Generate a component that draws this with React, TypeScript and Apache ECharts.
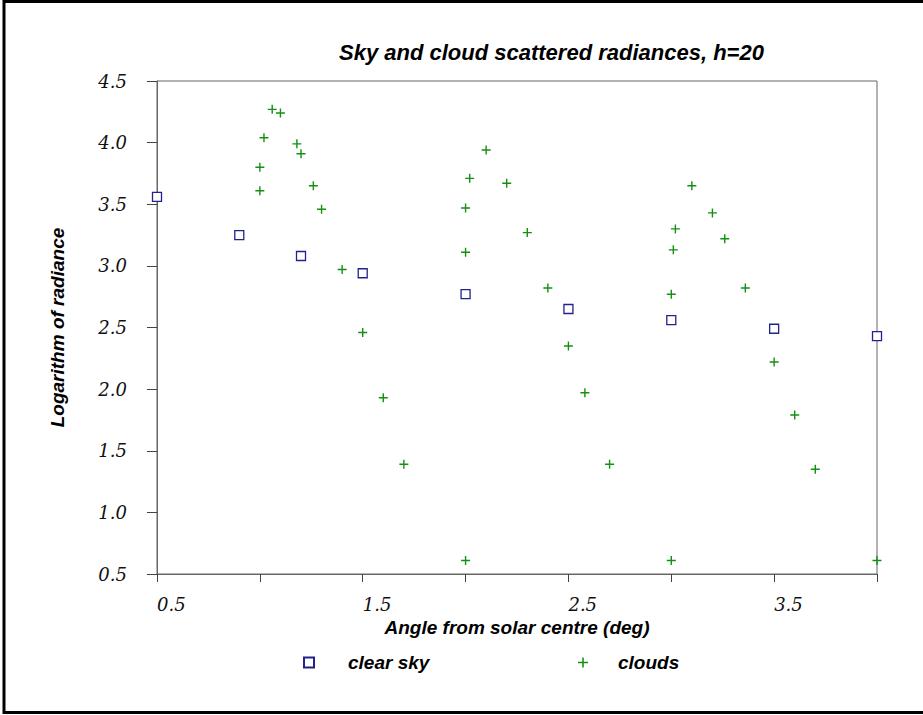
import React, { useEffect, useRef } from "react";
import * as echarts from "echarts";

const titleText = "Sky and cloud scattered radiances, h=20";
const xAxisTitle = "Angle from solar centre (deg)";
const yAxisTitle = "Logarithm of radiance";
const seriesNames = ["clear sky", "clouds"];

const skyX = [0.5, 0.9, 1.2, 1.5, 2.0, 2.5, 3.0, 3.5, 4.0];
const skyY = [3.56, 3.25, 3.08, 2.94, 2.77, 2.65, 2.56, 2.49, 2.43];

const cloudX = [
  1.0, 1.0, 1.02, 1.06, 1.1, 1.18, 1.2, 1.26, 1.3, 1.4, 1.5, 1.6, 1.7,
  2.0, 2.0, 2.0, 2.02, 2.1, 2.2, 2.3, 2.4, 2.5, 2.58, 2.7,
  3.0, 3.0, 3.01, 3.02, 3.1, 3.2, 3.26, 3.36, 3.5, 3.6, 3.7,
  4.0,
];
const cloudY = [
  3.61, 3.8, 4.04, 4.27, 4.24, 3.99, 3.91, 3.65, 3.46, 2.97, 2.46, 1.93, 1.39,
  0.61, 3.11, 3.47, 3.71, 3.94, 3.67, 3.27, 2.82, 2.35, 1.97, 1.39,
  0.61, 2.77, 3.13, 3.3, 3.65, 3.43, 3.22, 2.82, 2.22, 1.79, 1.35,
  0.61,
];

const xLabelValues = [0.5, 1.5, 2.5, 3.5];

const PLUS = "path://M3.8,0H5.2V3.8H9V5.2H5.2V9H3.8V5.2H0V3.8H3.8Z";

export default function App() {
  const ref = useRef<HTMLDivElement>(null);
  useEffect(() => {
    document.body.style.margin = "0";
    const chart = echarts.init(ref.current!, null, { renderer: "svg" });
    const labelStyle = {
      fontFamily: "DejaVu Serif",
      fontStyle: "italic" as const,
      fontSize: 18,
      color: "#111",
    };
    const nameStyle = {
      fontFamily: "Liberation Sans",
      fontStyle: "italic" as const,
      fontWeight: "bold" as const,
      fontSize: 19,
      color: "#000",
    };
    chart.setOption({
      animation: false,
      backgroundColor: "#fff",
      title: {
        text: titleText,
        left: 339,
        top: 41,
        padding: 0,
        textStyle: {
          fontFamily: "Liberation Sans",
          fontStyle: "italic",
          fontWeight: "bold",
          fontSize: 22,
          color: "#000",
        },
      },
      graphic: [
        {
          type: "rect",
          shape: { x: 4, y: 1.5, width: 1000, height: 711 },
          style: { fill: "none", stroke: "#000", lineWidth: 3 },
          silent: true,
        },
      ],
      legend: [
        {
          data: [seriesNames[0]],
          left: 298,
          top: 648,
          itemWidth: 10,
          itemHeight: 10,
          textStyle: { ...nameStyle, padding: [0, 0, 0, 29] },
        },
        {
          data: [seriesNames[1]],
          left: 573,
          top: 648,
          itemWidth: 10,
          itemHeight: 10,
          textStyle: { ...nameStyle, padding: [0, 0, 0, 25] },
        },
      ],
      grid: {
        left: 157,
        right: 46,
        top: 81,
        bottom: 141,
        show: true,
        borderColor: "#666",
        borderWidth: 1,
        backgroundColor: "transparent",
      },
      xAxis: {
        type: "value",
        min: 0.5,
        max: 4.0,
        interval: 0.5,
        name: xAxisTitle,
        nameLocation: "middle",
        nameGap: 43,
        nameTextStyle: nameStyle,
        axisLine: { show: true, lineStyle: { color: "#666", width: 1 } },
        axisTick: { show: true, inside: false, length: 8, lineStyle: { color: "#444" } },
        splitLine: { show: false },
        axisLabel: {
          ...labelStyle,
          margin: 21,
          align: "left",
          showMaxLabel: true,
          showMinLabel: true,
          formatter: (v: number) =>
            xLabelValues.some((x) => Math.abs(x - v) < 1e-6) ? v.toFixed(1) : "",
        },
      },
      yAxis: {
        type: "value",
        min: 0.5,
        max: 4.5,
        interval: 0.5,
        name: yAxisTitle,
        nameLocation: "middle",
        nameGap: 90,
        nameTextStyle: nameStyle,
        axisLine: { show: true, lineStyle: { color: "#666", width: 1 } },
        axisTick: { show: true, inside: false, length: 10, lineStyle: { color: "#444" } },
        splitLine: { show: false },
        axisLabel: {
          ...labelStyle,
          margin: 30,
          formatter: (v: number) => v.toFixed(1),
        },
      },
      series: [
        {
          name: seriesNames[1],
          type: "scatter",
          clip: false,
          symbol: PLUS,
          symbolSize: 9,
          itemStyle: { color: "#129012", opacity: 1 },
          data: cloudX.map((x, i) => [x, cloudY[i]]),
        },
        {
          name: seriesNames[0],
          type: "scatter",
          clip: false,
          symbol: "rect",
          symbolSize: 9,
          itemStyle: {
            color: "#fff",
            borderColor: "#22228f",
            borderWidth: 1.3,
            opacity: 1,
          },
          data: skyX.map((x, i) => [x, skyY[i]]),
        },
      ],
    });
    return () => chart.dispose();
  }, []);
  return <div ref={ref} style={{ width: 923, height: 715 }} />;
}
